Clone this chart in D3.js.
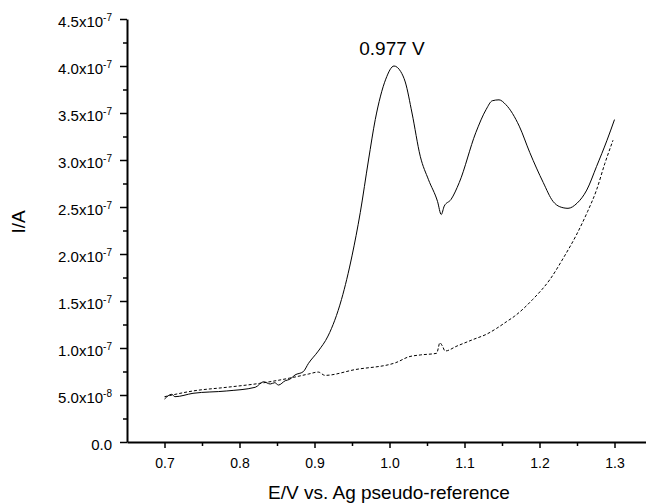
<!DOCTYPE html>
<html>
<head>
<meta charset="utf-8">
<script src="https://cdn.jsdelivr.net/npm/d3@7"></script>
<style>
  body { margin: 0; background: #fff; }
  svg { display: block; font-family: "Liberation Sans", Arial, sans-serif; }
</style>
</head>
<body>
<div id="app"></div>
<script>
// current in units of 1e-7 A
const solidE = [0.700, 0.7096, 0.714, 0.738, 0.783, 0.821, 0.832, 0.841, 0.847, 0.852, 0.861, 0.867, 0.874, 0.885, 0.892,
  0.905, 0.918, 0.936, 0.950, 0.961, 0.972, 0.981, 0.988, 0.995, 1.006, 1.015, 1.021, 1.030, 1.041, 1.052, 1.064, 1.069,
  1.073, 1.082, 1.093, 1.115, 1.129, 1.137, 1.146, 1.155, 1.173, 1.187, 1.205, 1.218, 1.227, 1.238, 1.250, 1.263, 1.276, 1.290, 1.300]
const solidI = [0.457, 0.507, 0.482, 0.518, 0.543, 0.582, 0.641, 0.617, 0.631, 0.606, 0.652, 0.667, 0.713, 0.748, 0.837,
  0.967, 1.127, 1.517, 1.98, 2.44, 3.00, 3.43, 3.68, 3.86, 4.00, 3.94, 3.83, 3.50, 3.04, 2.79, 2.56, 2.42,
  2.51, 2.58, 2.76, 3.29, 3.54, 3.63, 3.64, 3.59, 3.36, 3.08, 2.76, 2.56, 2.503, 2.486, 2.54, 2.68, 2.93, 3.21, 3.43]

const dashE = [0.700, 0.738, 0.783, 0.827, 0.872, 0.892, 0.905, 0.914, 0.954, 1.008, 1.026, 1.041, 1.063, 1.065, 1.067,
  1.071, 1.074, 1.090, 1.112, 1.130, 1.143, 1.156, 1.167, 1.191, 1.214, 1.232, 1.249, 1.264, 1.276, 1.287, 1.298]
const dashI = [0.482, 0.543, 0.582, 0.624, 0.688, 0.723, 0.744, 0.709, 0.770, 0.843, 0.907, 0.926, 0.944, 0.997, 1.056,
  1.014, 0.968, 1.021, 1.092, 1.149, 1.210, 1.280, 1.34, 1.517, 1.73, 1.96, 2.20, 2.45, 2.68, 2.96, 3.21]

const xTicks = [0.7, 0.8, 0.9, 1.0, 1.1, 1.2, 1.3]
const yTicks = [0, 0.5, 1.0, 1.5, 2.0, 2.5, 3.0, 3.5, 4.0, 4.5]
const yMant = ['0.0', '5.0', '1.0', '1.5', '2.0', '2.5', '3.0', '3.5', '4.0', '4.5']
const yExp = ['', '-8', '-7', '-7', '-7', '-7', '-7', '-7', '-7', '-7']

const width = 646
const height = 504

const x = d3.scaleLinear().domain([0.65, 1.35]).range([127, 652])
const y = d3.scaleLinear().domain([0, 4.5]).range([442, 19])

const svg = d3.select('#app')
  .append('svg')
  .attr('width', width)
  .attr('height', height)

// minor ticks
svg.append('g')
  .attr('transform', `translate(${x(0.65)},0)`)
  .call(d3.axisLeft(y).tickValues(d3.range(0.25, 4.5, 0.5)).tickSize(4).tickFormat(''))
  .call(g => g.select('.domain').remove())
  .call(g => g.selectAll('line').attr('stroke-width', 1.5))

svg.append('g')
  .attr('transform', `translate(0,${y(0)})`)
  .call(d3.axisBottom(x).tickValues(d3.range(0.75, 1.35, 0.1)).tickSize(4).tickFormat(''))
  .call(g => g.select('.domain').remove())
  .call(g => g.selectAll('line').attr('stroke-width', 1.5))

// y axis
const yAxis = svg.append('g')
  .attr('transform', `translate(${x(0.65)},0)`)
  .call(d3.axisLeft(y).tickValues(yTicks).tickSize(7).tickSizeOuter(0).tickFormat(''))
yAxis.select('.domain').attr('stroke-width', 2)
yAxis.selectAll('line').attr('stroke-width', 1.5)
yAxis.selectAll('.tick text').remove()
yAxis.selectAll('.tick').each(function(d, i) {
  const t = d3.select(this).append('text')
    .attr('x', -15)
    .attr('y', 7)
    .attr('fill', '#000')
    .attr('text-anchor', 'end')
    .style('font-size', '15px')
  t.append('tspan').text(i == 0 ? yMant[i] : yMant[i] + 'x10')
  if (yExp[i]) t.append('tspan').attr('dy', -6).style('font-size', '10px').text(yExp[i])
})

// x axis
const xAxis = svg.append('g')
  .attr('transform', `translate(0,${y(0)})`)
  .call(d3.axisBottom(x).tickValues(xTicks).tickSize(6).tickSizeOuter(0).tickFormat(d3.format('.1f')))
xAxis.select('.domain').attr('stroke-width', 2)
xAxis.selectAll('line').attr('stroke-width', 1.5)
xAxis.selectAll('text')
  .attr('y', 16)
  .attr('dy', '0.71em')
  .style('font-size', '14px')
  .style('font-family', '"Liberation Sans", Arial, sans-serif')

const line = d3.line()
  .curve(d3.curveMonotoneX)
  .x(d => x(d[0]))
  .y(d => y(d[1]))

svg.append('path')
  .datum(solidE.map((e, i) => [e, solidI[i]]))
  .attr('fill', 'none')
  .attr('stroke', '#000')
  .attr('stroke-width', 1)
  .attr('d', line)

svg.append('path')
  .datum(dashE.map((e, i) => [e, dashI[i]]))
  .attr('fill', 'none')
  .attr('stroke', '#000')
  .attr('stroke-width', 1)
  .attr('stroke-dasharray', '3,2')
  .attr('d', line)

svg.append('text')
  .attr('x', 392)
  .attr('y', 55)
  .attr('text-anchor', 'middle')
  .style('font-size', '19px')
  .text('0.977 V')

svg.append('text')
  .attr('transform', 'translate(25,222) rotate(-90)')
  .attr('text-anchor', 'middle')
  .style('font-size', '19px')
  .text('I/A')

svg.append('text')
  .attr('x', 389)
  .attr('y', 499)
  .attr('text-anchor', 'middle')
  .style('font-size', '19px')
  .text('E/V vs. Ag pseudo-reference')
</script>
</body>
</html>
